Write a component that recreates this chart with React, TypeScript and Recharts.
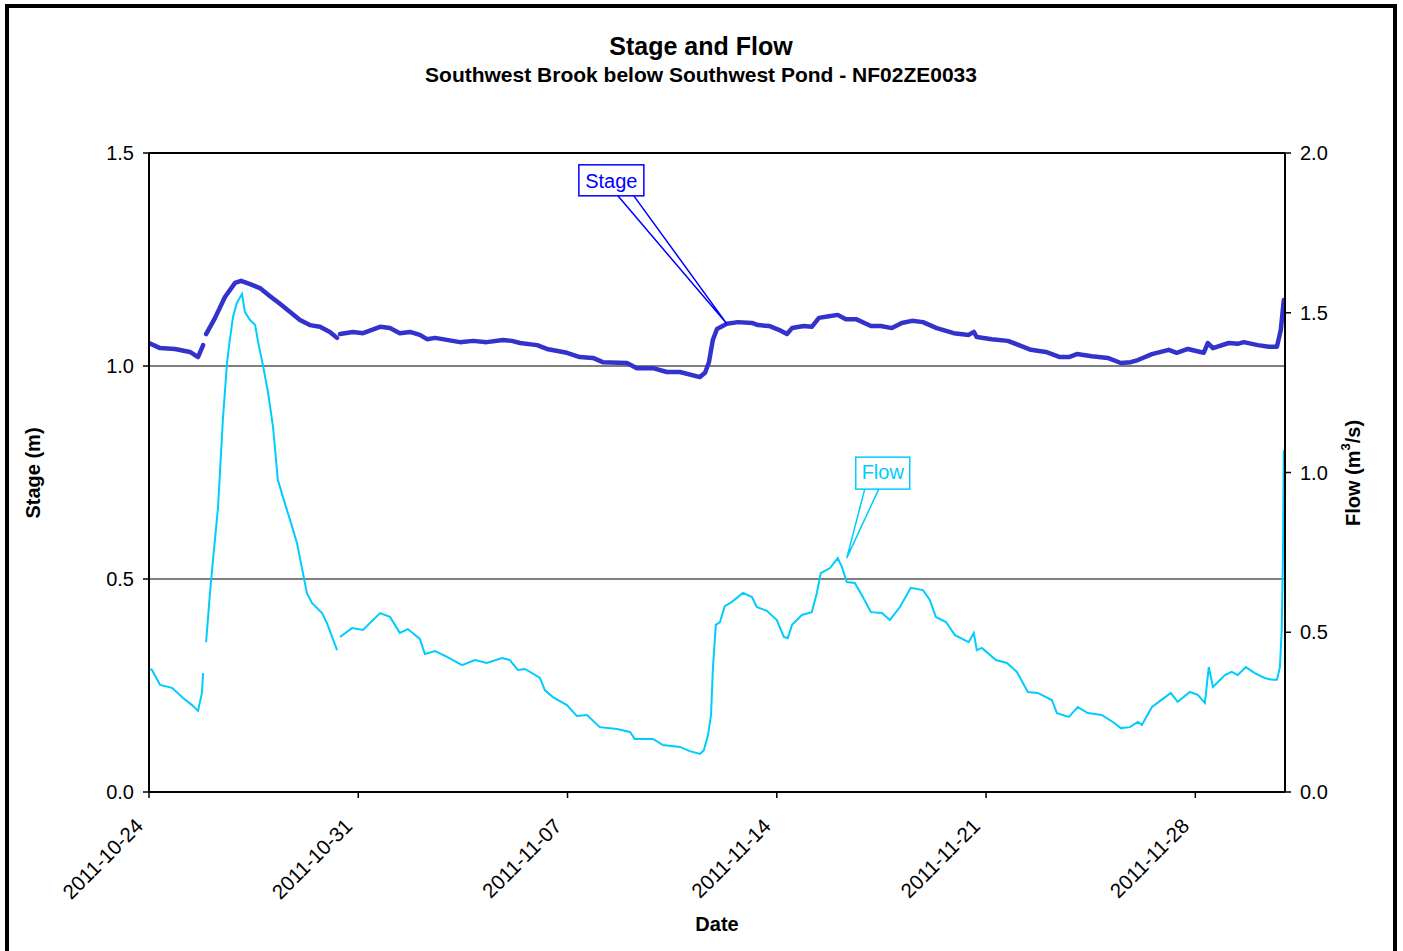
import React from 'react';
import {
  LineChart,
  Line,
  XAxis,
  YAxis,
  CartesianGrid,
  ReferenceDot,
  ReferenceLine,
} from 'recharts';

// x = days since 2011-10-24 00:00, null = gap in the record
const stageReadings: [number, number | null][] = [
  [0, 1.054], [0.37, 1.042], [0.87, 1.04], [1.37, 1.033], [1.64, 1.021], [1.81, 1.049], [1.86, null],
  [1.91, 1.075], [2.21, 1.113], [2.54, 1.162], [2.88, 1.195], [3.08, 1.2], [3.38, 1.192], [3.71, 1.183],
  [4.05, 1.164], [4.38, 1.146], [4.72, 1.127], [5.05, 1.108], [5.38, 1.096], [5.72, 1.092], [6.05, 1.08],
  [6.29, 1.066], [6.34, null],
  [6.39, 1.075], [6.82, 1.08], [7.16, 1.077], [7.73, 1.092], [8.06, 1.089], [8.39, 1.077], [8.73, 1.08],
  [9.06, 1.073], [9.3, 1.063], [9.57, 1.066], [10.4, 1.056], [10.84, 1.059], [11.3, 1.056], [11.84, 1.061],
  [12.14, 1.059], [12.41, 1.054], [12.98, 1.049], [13.31, 1.04], [13.98, 1.031], [14.41, 1.021],
  [14.85, 1.019], [15.18, 1.009], [15.99, 1.007], [16.32, 0.995], [16.86, 0.995], [17.32, 0.986],
  [17.76, 0.986], [18.43, 0.974], [18.6, 0.984], [18.73, 1.009], [18.86, 1.061], [19.0, 1.087],
  [19.33, 1.099], [19.7, 1.103], [20.17, 1.101], [20.37, 1.096], [20.74, 1.094], [21.07, 1.085],
  [21.34, 1.075], [21.51, 1.089], [21.91, 1.094], [22.17, 1.092], [22.41, 1.113], [22.74, 1.117],
  [23.04, 1.12], [23.31, 1.11], [23.65, 1.11], [24.15, 1.094], [24.48, 1.094], [24.85, 1.089],
  [25.18, 1.101], [25.52, 1.106], [25.89, 1.103], [26.35, 1.089], [26.92, 1.077], [27.42, 1.073],
  [27.59, 1.08], [27.69, 1.068], [28.19, 1.063], [28.73, 1.059], [29.1, 1.049], [29.5, 1.038],
  [30.0, 1.033], [30.47, 1.021], [30.77, 1.021], [31.04, 1.028], [31.54, 1.023], [32.07, 1.019],
  [32.51, 1.007], [32.84, 1.009], [33.08, 1.014], [33.55, 1.028], [34.11, 1.038], [34.38, 1.031],
  [34.75, 1.04], [35.28, 1.031], [35.42, 1.054], [35.59, 1.042], [36.12, 1.054], [36.42, 1.052],
  [36.62, 1.056], [37.09, 1.049], [37.46, 1.045], [37.73, 1.045], [37.86, 1.085], [37.96, 1.155],
];

const flowReadings: [number, number | null][] = [
  [0, 0.385], [0.1, 0.382], [0.37, 0.335], [0.77, 0.326], [1.14, 0.294], [1.44, 0.272], [1.64, 0.254],
  [1.77, 0.31], [1.81, 0.372], [1.86, null],
  [1.91, 0.469], [2.04, 0.623], [2.14, 0.726], [2.31, 0.892], [2.47, 1.164], [2.61, 1.343], [2.68, 1.399],
  [2.81, 1.487], [2.94, 1.531], [3.11, 1.559], [3.21, 1.502], [3.38, 1.477], [3.55, 1.462], [3.65, 1.408],
  [3.81, 1.336], [3.98, 1.252], [4.15, 1.142], [4.31, 0.977], [4.48, 0.923], [4.72, 0.851], [4.95, 0.779],
  [5.15, 0.685], [5.28, 0.623], [5.45, 0.592], [5.79, 0.56], [5.95, 0.529], [6.29, 0.444], [6.34, null],
  [6.39, 0.485], [6.79, 0.513], [7.16, 0.507], [7.49, 0.538], [7.73, 0.56], [8.06, 0.548], [8.39, 0.498],
  [8.66, 0.51], [9.06, 0.479], [9.23, 0.432], [9.57, 0.441], [9.97, 0.423], [10.47, 0.397], [10.9, 0.413],
  [11.3, 0.404], [11.81, 0.419], [12.07, 0.413], [12.34, 0.382], [12.58, 0.385], [13.08, 0.357],
  [13.24, 0.319], [13.51, 0.297], [13.98, 0.272], [14.31, 0.238], [14.65, 0.241], [15.08, 0.203],
  [15.65, 0.197], [16.09, 0.188], [16.25, 0.166], [16.86, 0.166], [17.19, 0.147], [17.76, 0.141],
  [18.09, 0.128], [18.43, 0.119], [18.56, 0.131], [18.7, 0.178], [18.8, 0.241], [18.86, 0.382],
  [18.96, 0.523], [19.1, 0.532], [19.26, 0.582], [19.5, 0.595], [19.87, 0.623], [20.17, 0.61],
  [20.33, 0.579], [20.67, 0.567], [21.0, 0.538], [21.24, 0.485], [21.37, 0.482], [21.51, 0.523],
  [21.84, 0.554], [22.17, 0.563], [22.34, 0.623], [22.47, 0.685], [22.78, 0.701], [23.04, 0.732],
  [23.18, 0.704], [23.34, 0.657], [23.61, 0.654], [23.88, 0.61], [24.15, 0.563], [24.52, 0.56],
  [24.78, 0.538], [25.12, 0.579], [25.48, 0.639], [25.89, 0.632], [26.12, 0.601], [26.32, 0.548],
  [26.66, 0.532], [26.96, 0.491], [27.42, 0.469], [27.59, 0.498], [27.69, 0.444], [27.86, 0.451],
  [28.33, 0.413], [28.7, 0.404], [29.03, 0.376], [29.4, 0.313], [29.73, 0.31], [30.2, 0.288],
  [30.37, 0.247], [30.77, 0.235], [31.07, 0.266], [31.4, 0.247], [31.87, 0.241], [32.24, 0.219],
  [32.51, 0.2], [32.81, 0.203], [33.08, 0.219], [33.21, 0.21], [33.55, 0.266], [33.78, 0.282],
  [34.18, 0.31], [34.41, 0.282], [34.82, 0.313], [35.08, 0.304], [35.32, 0.279], [35.45, 0.391],
  [35.59, 0.329], [35.99, 0.366], [36.22, 0.376], [36.42, 0.366], [36.69, 0.391], [36.99, 0.372],
  [37.32, 0.357], [37.59, 0.351], [37.73, 0.351], [37.83, 0.391], [37.89, 0.507], [37.93, 0.726],
  [37.96, 1.07],
];

const dayTicks = [0, 7, 14, 21, 28, 35];
const dayTickLabels = ['2011-10-24', '2011-10-31', '2011-11-07', '2011-11-14', '2011-11-21', '2011-11-28'];
const stageTicks = [0, 0.5, 1.0, 1.5];
const flowTicks = [0, 0.5, 1.0, 1.5, 2.0];

// callout anchors: [day, value]
const stageCalloutAt: [number, number] = [19.33, 1.099];
const flowCalloutAt: [number, number] = [23.34, 0.732];

const stageData = stageReadings.map(([day, v]) => ({ day, stage: v }));
const flowData = flowReadings.map(([day, v]) => ({ day, flow: v }));

const FONT = 'Arial, "Liberation Sans", sans-serif';
const STAGE_COLOR = '#3333CC';
const FLOW_COLOR = '#00CCFF';

const DateTick = (props: any) => {
  const { x, y, payload } = props;
  const idx = dayTicks.indexOf(payload.value);
  const px = x - 10;
  const py = y + 22;
  return (
    <text
      x={px}
      y={py}
      transform={`rotate(-45 ${px} ${py})`}
      textAnchor="end"
      dominantBaseline="central"
      fontSize={20.5}
      fontFamily={FONT}
      fill="#000"
    >
      {idx >= 0 ? dayTickLabels[idx] : ''}
    </text>
  );
};

const StageCallout = (props: any) => {
  const { cx, cy } = props;
  return (
    <g>
      <polyline
        points={`${cx - 109},${cy - 128} ${cx},${cy} ${cx - 93},${cy - 128}`}
        fill="none"
        stroke="#0000FF"
        strokeWidth={1.5}
      />
      <rect x={cx - 148} y={cy - 159} width={65} height={31} fill="#fff" stroke="#0000FF" strokeWidth={1.5} />
      <text x={cx - 115.5} y={cy - 136} textAnchor="middle" fontSize={20} fontFamily={FONT} fill="#0000FF">
        Stage
      </text>
    </g>
  );
};

const FlowCallout = (props: any) => {
  const { cx, cy } = props;
  return (
    <g>
      <polyline
        points={`${cx + 18},${cy - 69} ${cx},${cy} ${cx + 32},${cy - 69}`}
        fill="none"
        stroke={FLOW_COLOR}
        strokeWidth={1.5}
      />
      <rect x={cx + 9} y={cy - 101} width={54} height={32} fill="#fff" stroke={FLOW_COLOR} strokeWidth={1.5} />
      <text x={cx + 36} y={cy - 79} textAnchor="middle" fontSize={20} fontFamily={FONT} fill={FLOW_COLOR}>
        Flow
      </text>
    </g>
  );
};

const tickStyle = { fontSize: 20, fill: '#000', fontFamily: FONT };

export default function App() {
  return (
    <div style={{ position: 'absolute', left: 0, top: 0, width: 1403, height: 951, overflow: 'hidden', background: '#fff', fontFamily: FONT }}>
      <div
        style={{
          position: 'absolute',
          left: 5,
          top: 4,
          width: 1392,
          height: 1000,
          border: '4px solid #000',
          boxSizing: 'border-box',
        }}
      />
      <LineChart
        width={1403}
        height={951}
        margin={{ top: 153, right: 58, bottom: 59, left: 89 }}
        style={{ position: 'absolute', left: 0, top: 0 }}
      >
        <CartesianGrid yAxisId="left" horizontal vertical={false} stroke="#000" strokeWidth={1.2} />
        <XAxis
          dataKey="day"
          type="number"
          domain={[0, 38]}
          ticks={dayTicks}
          allowDataOverflow
          height={100}
          tick={<DateTick />}
          tickSize={6}
          tickMargin={2}
          interval={0}
          axisLine={{ stroke: '#000', strokeWidth: 2 }}
          tickLine={{ stroke: '#000', strokeWidth: 1.5 }}
        />
        <YAxis
          yAxisId="left"
          domain={[0, 1.5]}
          ticks={stageTicks}
          width={60}
          tickFormatter={(v: number) => v.toFixed(1)}
          tick={tickStyle}
          tickSize={6}
          tickMargin={9}
          interval={0}
          axisLine={{ stroke: '#000', strokeWidth: 2 }}
          tickLine={{ stroke: '#000', strokeWidth: 1.5 }}
        />
        <YAxis
          yAxisId="right"
          orientation="right"
          domain={[0, 2]}
          ticks={flowTicks}
          width={60}
          tickFormatter={(v: number) => v.toFixed(1)}
          tick={tickStyle}
          tickSize={6}
          tickMargin={9}
          interval={0}
          axisLine={{ stroke: '#000', strokeWidth: 2 }}
          tickLine={{ stroke: '#000', strokeWidth: 1.5 }}
        />
        <ReferenceLine yAxisId="left" y={1.5} stroke="#000" strokeWidth={2} />
        <Line
          yAxisId="right"
          data={flowData}
          dataKey="flow"
          type="linear"
          stroke={FLOW_COLOR}
          strokeWidth={2}
          dot={false}
          connectNulls={false}
          isAnimationActive={false}
        />
        <Line
          yAxisId="left"
          data={stageData}
          dataKey="stage"
          type="linear"
          stroke={STAGE_COLOR}
          strokeWidth={4.5}
          strokeLinejoin="round"
          strokeLinecap="round"
          dot={false}
          connectNulls={false}
          isAnimationActive={false}
        />
        <ReferenceDot
          yAxisId="left"
          x={stageCalloutAt[0]}
          y={stageCalloutAt[1]}
          shape={<StageCallout />}
          ifOverflow="visible"
        />
        <ReferenceDot
          yAxisId="right"
          x={flowCalloutAt[0]}
          y={flowCalloutAt[1]}
          shape={<FlowCallout />}
          ifOverflow="visible"
        />
      </LineChart>
      <svg width={1403} height={951} style={{ position: 'absolute', left: 0, top: 0, pointerEvents: 'none' }}>
        <text x={701} y={55} textAnchor="middle" fontSize={25} fontWeight="bold" fontFamily={FONT} fill="#000">
          Stage and Flow
        </text>
        <text x={701} y={82} textAnchor="middle" fontSize={21} fontWeight="bold" fontFamily={FONT} fill="#000">
          Southwest Brook below Southwest Pond - NF02ZE0033
        </text>
        <text
          transform="translate(33 473) rotate(-90)"
          textAnchor="middle"
          dominantBaseline="central"
          fontSize={20}
          fontWeight="bold"
          fontFamily={FONT}
          fill="#000"
        >
          Stage (m)
        </text>
        <text
          transform="translate(1353 473) rotate(-90)"
          textAnchor="middle"
          dominantBaseline="central"
          fontSize={20}
          fontWeight="bold"
          fontFamily={FONT}
          fill="#000"
        >
          Flow (m<tspan dy={-8} fontSize={13}>3</tspan>
          <tspan dy={8}>/s)</tspan>
        </text>
        <text x={717} y={931} textAnchor="middle" fontSize={20} fontWeight="bold" fontFamily={FONT} fill="#000">
          Date
        </text>
      </svg>
    </div>
  );
}
